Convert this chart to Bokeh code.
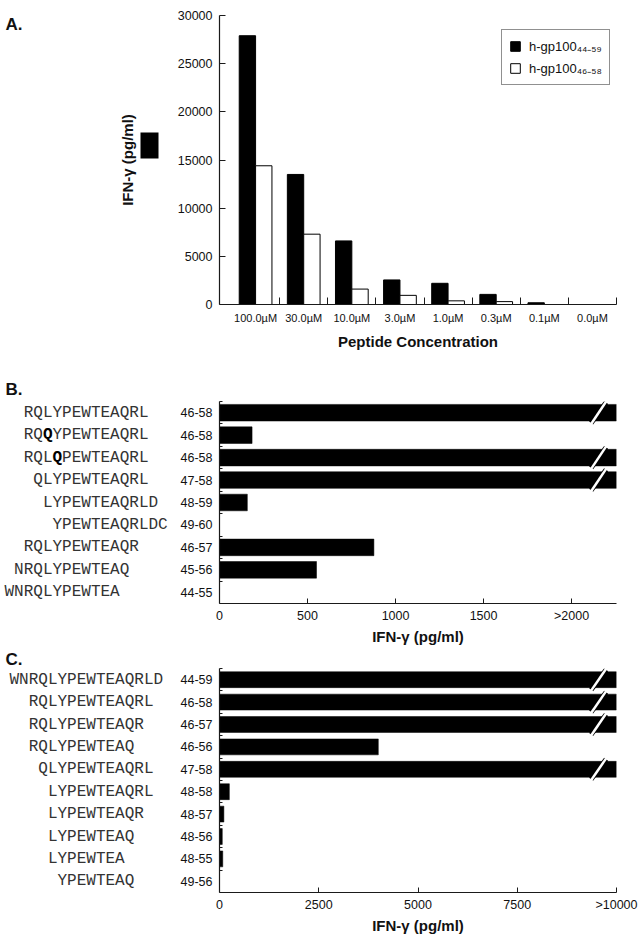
import math
from bokeh.plotting import figure
from bokeh.models import Range1d, FixedTicker, Legend, LegendItem, ColumnDataSource
from bokeh.core.properties import value
from bokeh.layouts import column, row
from bokeh.transform import dodge
from bokeh.embed import file_html
from bokeh.resources import INLINE

# ---------------- data ----------------
# Panel A
conc_labels = ["100.0µM", "30.0µM", "10.0µM", "3.0µM", "1.0µM", "0.3µM", "0.1µM", "0.0µM"]
ifn_44_59 = [27900, 13500, 6600, 2550, 2200, 1050, 180, 0]
ifn_46_58 = [14400, 7300, 1600, 950, 380, 300, 0, 0]
series_labels = ["h-gp100₄₄₋₅₉", "h-gp100₄₆₋₅₈"]
a_yticks = [0, 5000, 10000, 15000, 20000, 25000, 30000]

# Panel B
b_seqs = ["RQLYPEWTEAQRL", "RQQYPEWTEAQRL", "RQLQPEWTEAQRL", "QLYPEWTEAQRL", "LYPEWTEAQRLD",
          "YPEWTEAQRLDC", "RQLYPEWTEAQR", "NRQLYPEWTEAQ", "WNRQLYPEWTEA"]
b_ranges = ["46-58", "46-58", "46-58", "47-58", "48-59", "49-60", "46-57", "45-56", "44-55"]
b_ifn = [None, 185, None, None, 158, 0, 877, 551, 0]   # None = off scale (>2000)
b_bold = [None, 48, 49, None, None, None, None, None, None]  # substituted residue (bold)
b_ticks = [0, 500, 1000, 1500, 2000]
b_tick_labels = ["0", "500", "1000", "1500", ">2000"]
b_xmax = 2255

# Panel C
c_seqs = ["WNRQLYPEWTEAQRLD", "RQLYPEWTEAQRL", "RQLYPEWTEAQR", "RQLYPEWTEAQ", "QLYPEWTEAQRL",
          "LYPEWTEAQRL", "LYPEWTEAQR", "LYPEWTEAQ", "LYPEWTEA", "YPEWTEAQ"]
c_ranges = ["44-59", "46-58", "46-57", "46-56", "47-58", "48-58", "48-57", "48-56", "48-55", "49-56"]
c_ifn = [None, None, None, 4000, None, 248, 110, 70, 82, 0]   # None = off scale (>10000)
c_bold = [None] * 10
c_ticks = [0, 2500, 5000, 7500, 10000]
c_tick_labels = ["0", "2500", "5000", "7500", ">10000"]
c_xmax = 10000

# ---------------- layout constants ----------------
W = 642
FRAME_LEFT = 219
FRAME_W = 397
LABW = 170
SANS = "Liberation Sans"
MONO = "Liberation Mono"
AXIS_COLOR = "#1a1a1a"
TXT = "#111111"
SEQ_COLOR = "#333333"
MONO_SIZE = 16
ADV = 0.6 * MONO_SIZE


def base_style(p):
    p.outline_line_color = None
    p.xgrid.grid_line_color = None
    p.ygrid.grid_line_color = None
    for ax in (p.xaxis[0], p.yaxis[0]):
        ax.axis_line_color = AXIS_COLOR
        ax.axis_line_width = 1.2
        ax.major_tick_line_color = AXIS_COLOR
        ax.minor_tick_line_color = AXIS_COLOR
        ax.major_label_text_font = SANS
        ax.major_label_text_color = TXT
        ax.axis_label_text_font = SANS
        ax.axis_label_text_font_style = "bold"
        ax.axis_label_text_color = TXT
        ax.minor_tick_in = 0
        ax.minor_tick_out = 0
        ax.major_tick_out = 0


def label_fig(height, y_range, title=None, standoff=0):
    q = figure(width=LABW, height=height, x_range=Range1d(0, LABW), y_range=y_range,
               x_axis_type=None, y_axis_type=None, output_backend="svg",
               toolbar_location=None, title=title, min_border=0)
    q.outline_line_color = None
    if title is not None:
        q.title.align = "left"
        q.title.offset = 5
        q.title.standoff = standoff
        q.title.text_font = SANS
        q.title.text_font_size = "17px"
        q.title.text_font_style = "bold"
        q.title.text_color = TXT
    return q


def bar_fig(height, x_range, y_range, top, bottom):
    p = figure(width=W - LABW, height=height, x_range=x_range, y_range=y_range,
               output_backend="svg", toolbar_location=None, title=None,
               min_border_left=FRAME_LEFT - LABW, min_border_right=W - FRAME_LEFT - FRAME_W,
               min_border_top=top, min_border_bottom=bottom)
    base_style(p)
    return p


# ---------------- Panel A ----------------
A_H, A_TOP, A_BOT = 361, 15, 57
nA = len(conc_labels)
pA = bar_fig(A_H, Range1d(-0.25, nA), Range1d(0, 30000), A_TOP, A_BOT)
srcA = ColumnDataSource(dict(x=[i + 0.5 for i in range(nA)], a=ifn_44_59, b=ifn_46_58))
rA1 = pA.vbar(x=dodge("x", -0.17, range=pA.x_range), top="a", width=0.34, source=srcA,
              fill_color="black", line_color="black", line_width=1)
rA2 = pA.vbar(x=dodge("x", 0.17, range=pA.x_range), top="b", width=0.34, source=srcA,
              fill_color="white", line_color="black", line_width=1)

xa = pA.xaxis[0]
xa.ticker = FixedTicker(ticks=[i + 0.5 for i in range(nA)], minor_ticks=[i + 1 for i in range(nA)])
xa.major_label_overrides = {i + 0.5: lab for i, lab in enumerate(conc_labels)}
xa.major_tick_in = 0
xa.minor_tick_in = 7
xa.major_label_standoff = 7
xa.major_label_text_font_size = "11px"
xa.axis_label = "Peptide Concentration"
xa.axis_label_text_font_size = "15px"
xa.axis_label_standoff = 6

ya = pA.yaxis[0]
ya.ticker = FixedTicker(ticks=a_yticks, minor_ticks=[])
ya.major_tick_in = 6
ya.major_label_standoff = 7
ya.major_label_text_font_size = "12.5px"

legend = Legend(items=[LegendItem(label=series_labels[0], renderers=[rA1]),
                       LegendItem(label=series_labels[1], renderers=[rA2])],
                location=(282, 219), margin=0, padding=7, spacing=4,
                label_standoff=8, glyph_width=12, glyph_height=12, label_height=14,
                label_text_font=SANS, label_text_font_size="13px", label_text_color=TXT,
                border_line_color="#222222", border_line_width=1,
                background_fill_color="white", background_fill_alpha=1)
pA.add_layout(legend)

# left strip of panel A: its frame shares the bar panel's rows; y in page pixels
labA = label_fig(A_H, Range1d(A_H - A_BOT, A_TOP))
labA.text(x=[5], y=[A_TOP - 1], text=["A."], text_font=value(SANS), text_font_size="17px",
          text_font_style="bold", text_baseline="top", text_align="left", text_color=TXT)
labA.text(x=[127], y=[A_TOP + (A_H - A_TOP - A_BOT) / 2], text=["IFN-γ (pg/ml)"],
          angle=math.pi / 2, text_font=value(SANS), text_font_size="15px",
          text_font_style="bold", text_baseline="middle", text_align="center", text_color=TXT)
labA.quad(left=[140], right=[158], top=[132], bottom=[158], fill_color="black", line_color=None)

rowA = row(labA, pA, spacing=0)


# ---------------- Panels B and C ----------------
def peptide_panel(seqs, ranges, ifn, bold, ticks, tick_labels, xmax, height, top, bottom,
                  bar_h, base_page, letter, letter_standoff):
    n = len(seqs)
    y_range = Range1d(n - 0.5, -0.5)
    p = bar_fig(height, Range1d(0, xmax), y_range, top, bottom)
    frame_h = height - top - bottom
    row_px = frame_h / n

    rights = [xmax if v is None else v for v in ifn]
    src = ColumnDataSource(dict(y=list(range(n)), right=rights))
    p.hbar(y="y", left=0, right="right", height=bar_h, source=src,
           fill_color="black", line_color="black", line_width=0.5)

    # axis-break slashes on off-scale bars
    xb = 0.955 * xmax
    d = 7.5 / FRAME_W * xmax
    off = [i for i, v in enumerate(ifn) if v is None]
    for ext_px, color, lw in ((2.0, "black", 5), (3.0, "white", 2.5)):
        ext = ext_px / row_px
        p.segment(x0=[xb - d] * len(off), y0=[i + bar_h / 2 + ext for i in off],
                  x1=[xb + d] * len(off), y1=[i - bar_h / 2 - ext for i in off],
                  line_color=color, line_width=lw)

    xax = p.xaxis[0]
    xax.ticker = FixedTicker(ticks=ticks, minor_ticks=[])
    xax.major_label_overrides = {t: lab for t, lab in zip(ticks, tick_labels)}
    xax.major_tick_in = 5
    xax.major_label_standoff = 5
    xax.major_label_text_font_size = "12.5px"
    xax.axis_label = "IFN-γ (pg/ml)"
    xax.axis_label_text_font_size = "15px"
    xax.axis_label_standoff = 2

    yax = p.yaxis[0]
    yax.ticker = FixedTicker(ticks=list(range(n)), minor_ticks=[i - 0.5 for i in range(n)])
    yax.major_label_overrides = {i: r for i, r in enumerate(ranges)}
    yax.major_tick_in = 0
    yax.minor_tick_in = 3
    yax.major_label_standoff = 7
    yax.major_label_text_font_size = "12.5px"

    # label strip: x in page pixels, y shares the bar panel's row range
    lab = label_fig(height, y_range, title=letter, standoff=letter_standoff)
    starts = [int(r.split("-")[0]) for r in ranges]
    lab.text(x=[base_page + (s - 44) * ADV for s in starts], y=list(range(n)), text=seqs,
             text_font=value(MONO), text_font_size=f"{MONO_SIZE}px",
             text_baseline="middle", text_align="left", text_color=SEQ_COLOR)
    bi = [i for i, b in enumerate(bold) if b is not None]
    if bi:
        bx = [base_page + (bold[i] - 44) * ADV for i in bi]
        lab.rect(x=[v + ADV / 2 for v in bx], y=bi, width=ADV, height=14 / row_px,
                 fill_color="white", line_color=None)
        lab.text(x=bx, y=bi, text=[seqs[i][bold[i] - starts[i]] for i in bi],
                 text_font=value(MONO), text_font_size=f"{MONO_SIZE}px", text_font_style="bold",
                 text_baseline="middle", text_align="left", text_color="#000000")
    return row(lab, p, spacing=0)


# B: page y 361..647, frame 401..609 ; C: page y 647..937, frame 667..892
rowB = peptide_panel(b_seqs, b_ranges, b_ifn, b_bold, b_ticks, b_tick_labels, b_xmax,
                     height=286, top=40, bottom=38, bar_h=0.74, base_page=4,
                     letter="B.", letter_standoff=6)
rowC = peptide_panel(c_seqs, c_ranges, c_ifn, c_bold, c_ticks, c_tick_labels, c_xmax,
                     height=290, top=20, bottom=45, bar_h=0.71, base_page=9,
                     letter="C.", letter_standoff=0)

layout = column(rowA, rowB, rowC, spacing=0)
open("out.html", "w").write(file_html(layout, INLINE))
